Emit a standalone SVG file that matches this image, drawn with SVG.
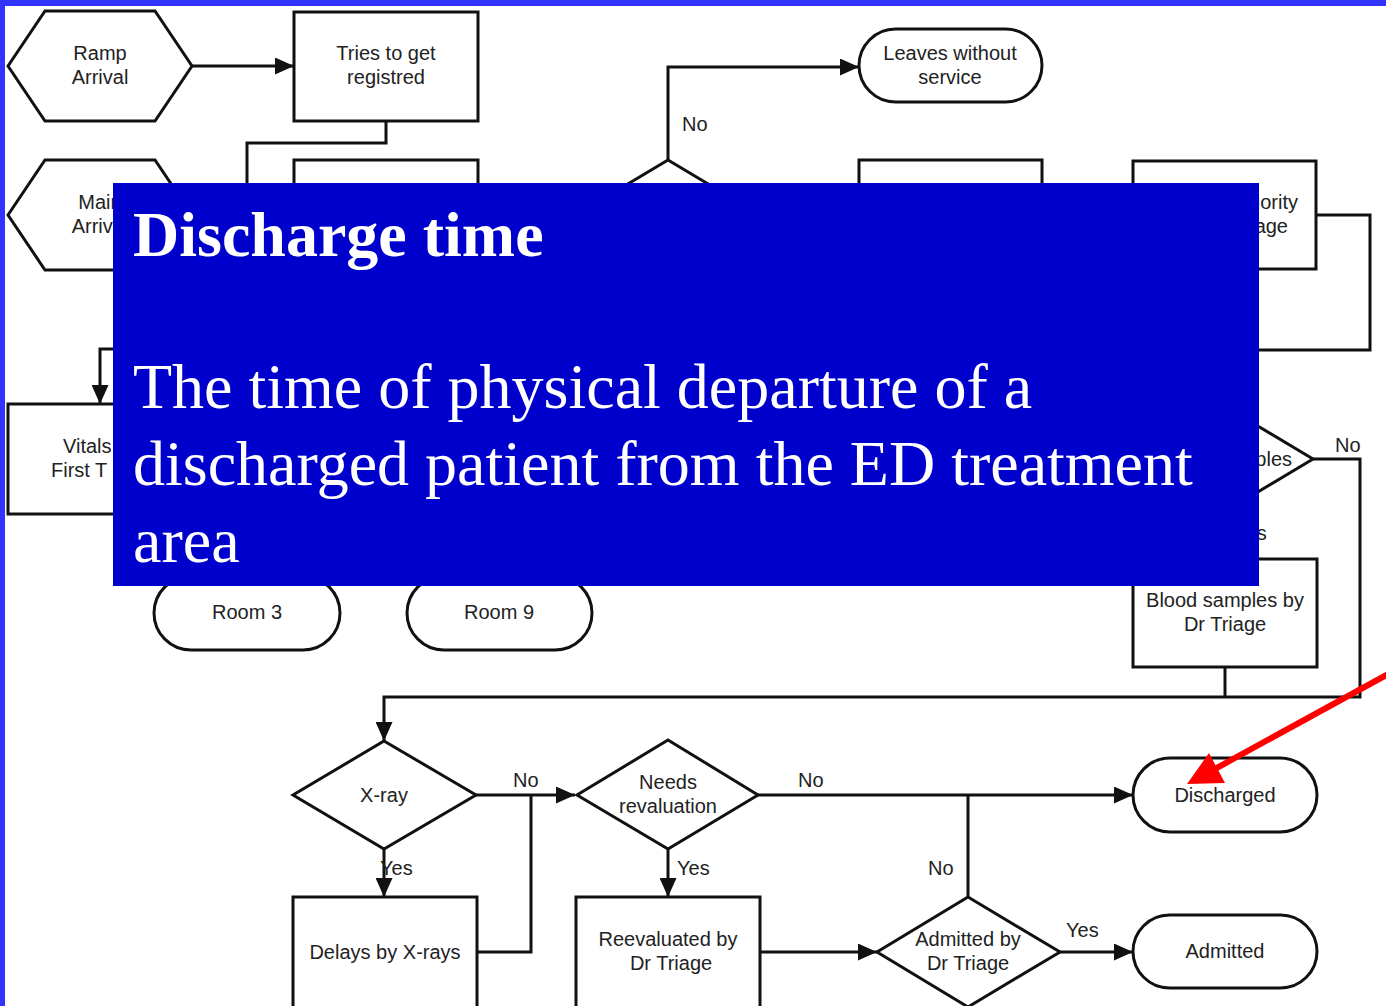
<svg xmlns="http://www.w3.org/2000/svg" width="1386" height="1006" viewBox="0 0 1386 1006">
  <style>
    .shape { fill: #ffffff; stroke: #111111; stroke-width: 3; }
    .wire { fill: none; stroke: #111111; stroke-width: 3; }
    .lbl { font-family: "Liberation Sans", Arial, sans-serif; font-size: 20px; fill: #222222; text-anchor: middle; }
    .tag { font-family: "Liberation Sans", Arial, sans-serif; font-size: 20px; fill: #222222; }
    .title { font-family: "Liberation Serif", "Times New Roman", serif; font-size: 64px; font-weight: bold; fill: #ffffff; }
    .body { font-family: "Liberation Serif", "Times New Roman", serif; font-size: 64px; fill: #ffffff; }
  </style>
  <defs>
    <marker id="arrow" markerUnits="userSpaceOnUse" markerWidth="19" markerHeight="17" refX="19" refY="8.5" orient="auto">
      <path d="M0,0 L19,8.5 L0,17 z" fill="#111111"/>
    </marker>
  </defs>

  <!-- page background and frame -->
  <rect x="0" y="0" width="1386" height="1006" fill="#ffffff"/>
  <rect x="0" y="0" width="1386" height="6" fill="#3333ff"/>
  <rect x="0" y="0" width="5" height="1006" fill="#3333ff"/>

  <!-- connectors -->
  <g id="connectors">
    <path class="wire" d="M192,66 H294" marker-end="url(#arrow)"/>
    <path class="wire" d="M386,121 V143 H247 V200"/>
    <path class="wire" d="M668,160 V67 H859" marker-end="url(#arrow)"/>
    <path class="wire" d="M1316,215 H1370 V350 H1230"/>
    <path class="wire" d="M130,349 H100 V404" marker-end="url(#arrow)"/>
    <path class="wire" d="M1313,459 H1360 V697 H384 V741" marker-end="url(#arrow)"/>
    <path class="wire" d="M1225,667 V697"/>
    <path class="wire" d="M476,795 H575" marker-end="url(#arrow)"/>
    <path class="wire" d="M477,952 H531 V795"/>
    <path class="wire" d="M384,849 V897" marker-end="url(#arrow)"/>
    <path class="wire" d="M668,849 V897" marker-end="url(#arrow)"/>
    <path class="wire" d="M758,795 H1133" marker-end="url(#arrow)"/>
    <path class="wire" d="M968,897 V795"/>
    <path class="wire" d="M760,952 H877" marker-end="url(#arrow)"/>
    <path class="wire" d="M1060,952 H1133" marker-end="url(#arrow)"/>
    <!-- branch labels -->
    <text class="tag" x="682" y="131">No</text>
    <text class="tag" x="1335" y="452">No</text>
    <text class="tag" x="1234" y="540">Yes</text>
    <text class="tag" x="513" y="787">No</text>
    <text class="tag" x="798" y="787">No</text>
    <text class="tag" x="928" y="875">No</text>
    <text class="tag" x="380" y="875">Yes</text>
    <text class="tag" x="677" y="875">Yes</text>
    <text class="tag" x="1066" y="937">Yes</text>
  </g>

  <!-- nodes -->
  <g id="ramp-arrival">
    <polygon class="shape" points="8,66 45,11 155,11 192,66 155,121 45,121"/>
    <text class="lbl" x="100" y="60">Ramp</text>
    <text class="lbl" x="100" y="84">Arrival</text>
  </g>
  <g id="tries-registred">
    <rect class="shape" x="294" y="12" width="184" height="109"/>
    <text class="lbl" x="386" y="60">Tries to get</text>
    <text class="lbl" x="386" y="84">registred</text>
  </g>
  <g id="leaves-without-service">
    <rect class="shape" x="859" y="29" width="183" height="73" rx="36.5"/>
    <text class="lbl" x="950" y="60">Leaves without</text>
    <text class="lbl" x="950" y="84">service</text>
  </g>
  <g id="main-arrival">
    <polygon class="shape" points="8,215 45,160 155,160 192,215 155,270 45,270"/>
    <text class="lbl" x="100" y="209">Main</text>
    <text class="lbl" x="100" y="233">Arrival</text>
  </g>
  <g id="box-2">
    <rect class="shape" x="294" y="160" width="184" height="109"/>
  </g>
  <g id="decision-top">
    <polygon class="shape" points="668,160 760,215 668,270 576,215"/>
  </g>
  <g id="box-3">
    <rect class="shape" x="859" y="160" width="183" height="109"/>
  </g>
  <g id="priority-triage">
    <rect class="shape" x="1133" y="161" width="183" height="108"/>
    <text class="tag" x="1298" y="209" text-anchor="end">Priority</text>
    <text class="tag" x="1288" y="233" text-anchor="end">Triage</text>
  </g>
  <g id="vitals">
    <rect class="shape" x="8" y="404" width="184" height="110"/>
    <text class="tag" x="63" y="453">Vitals</text>
    <text class="tag" x="51" y="477">First T</text>
  </g>
  <g id="blood-decision">
    <polygon class="shape" points="1221,404 1313,459 1221,514 1129,459"/>
    <text class="tag" x="1292" y="466" text-anchor="end">Samples</text>
  </g>
  <g id="room-3">
    <rect class="shape" x="154" y="576" width="186" height="74" rx="37"/>
    <text class="lbl" x="247" y="619">Room 3</text>
  </g>
  <g id="room-9">
    <rect class="shape" x="407" y="576" width="185" height="74" rx="37"/>
    <text class="lbl" x="499" y="619">Room 9</text>
  </g>
  <g id="blood-samples">
    <rect class="shape" x="1133" y="559" width="184" height="108"/>
    <text class="lbl" x="1225" y="607">Blood samples by</text>
    <text class="lbl" x="1225" y="631">Dr Triage</text>
  </g>
  <g id="x-ray">
    <polygon class="shape" points="384,741 476,795 384,849 293,795"/>
    <text class="lbl" x="384" y="802">X-ray</text>
  </g>
  <g id="needs-revaluation">
    <polygon class="shape" points="668,740 758,795 668,849 577,795"/>
    <text class="lbl" x="668" y="789">Needs</text>
    <text class="lbl" x="668" y="813">revaluation</text>
  </g>
  <g id="discharged">
    <rect class="shape" x="1133" y="758" width="184" height="74" rx="37"/>
    <text class="lbl" x="1225" y="802">Discharged</text>
  </g>
  <g id="delays-x-rays">
    <rect class="shape" x="293" y="897" width="184" height="112"/>
    <text class="lbl" x="385" y="959">Delays by X-rays</text>
  </g>
  <g id="reevaluated">
    <rect class="shape" x="576" y="897" width="184" height="112"/>
    <text class="lbl" x="668" y="946">Reevaluated by</text>
    <text class="lbl" x="671" y="970">Dr Triage</text>
  </g>
  <g id="admitted-decision">
    <polygon class="shape" points="968,897 1060,952 968,1007 877,952"/>
    <text class="lbl" x="968" y="946">Admitted by</text>
    <text class="lbl" x="968" y="970">Dr Triage</text>
  </g>
  <g id="admitted">
    <rect class="shape" x="1133" y="915" width="184" height="73" rx="36.5"/>
    <text class="lbl" x="1225" y="958">Admitted</text>
  </g>

  <!-- definition panel -->
  <g id="definition">
    <rect x="113" y="183" width="1146" height="403" fill="#0000cc"/>
    <text class="title" x="133" y="256">Discharge time</text>
    <text class="body" x="133" y="408">The time of physical departure of a</text>
    <text class="body" x="133" y="485">discharged patient from the ED treatment</text>
    <text class="body" x="133" y="562">area</text>
  </g>

  <!-- pointer to the Discharged node -->
  <g id="pointer">
    <line x1="1392" y1="672" x2="1213" y2="770" stroke="#ff0000" stroke-width="6"/>
    <polygon points="1187,784 1209,753 1225,783" fill="#ff0000"/>
  </g>
</svg>
